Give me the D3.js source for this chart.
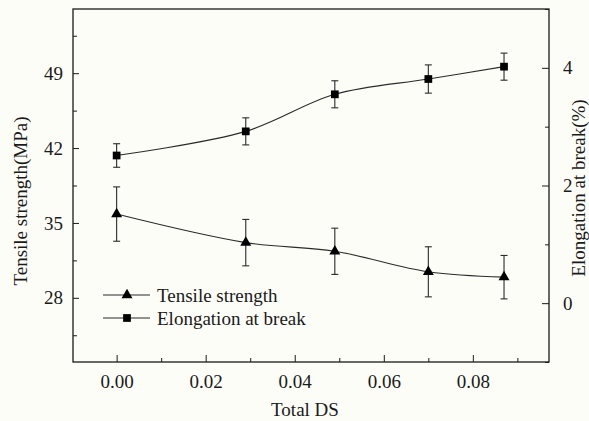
<!DOCTYPE html>
<html>
<head>
<meta charset="utf-8">
<script src="https://cdn.jsdelivr.net/npm/d3@7"></script>
<style>
  html, body { margin: 0; padding: 0; background: #fdfdf8; }
  svg { display: block; }
</style>
</head>
<body>
<svg id="chart" width="589" height="421"></svg>
<script>
// Degree of substitution on the x axis
const totalDS = [0.0, 0.029, 0.049, 0.070, 0.087];
// Tensile strength (MPa) with standard deviation
const tensile = [35.83, 33.16, 32.35, 30.43, 29.93];
const tensileErr = [2.54, 2.17, 2.16, 2.34, 2.03];
// Elongation at break (%) with standard deviation
const elongation = [2.51, 2.92, 3.55, 3.81, 4.02];
const elongationErr = [0.20, 0.23, 0.23, 0.24, 0.23];

const xTicks = [0.00, 0.02, 0.04, 0.06, 0.08];
const xMinor = [0.01, 0.03, 0.05, 0.07, 0.09];
const leftTicks = [28, 35, 42, 49];
const leftMinor = [24.5, 31.5, 38.5, 45.5, 52.5];
const rightTicks = [0, 2, 4];
const rightMinor = [-1, 1, 3, 5];

const FONT = '"Liberation Serif", "Times New Roman", serif';
const FS = "19px";
const W = 589, H = 421;
const m = { left: 73, right: 40, top: 9, bottom: 59 };
const svg = d3.select("#chart");

const x = d3.scaleLinear().domain([-0.0098, 0.0971]).range([m.left, W - m.right]);
const yL = d3.scaleLinear().domain([22, 55]).range([H - m.bottom, m.top]);
const yR = d3.scaleLinear().domain([-1, 5]).range([H - m.bottom, m.top]);

const axisColor = "#1a1a1a";
const g = svg.append("g");

// Frame
g.append("rect")
  .attr("x", m.left).attr("y", m.top)
  .attr("width", W - m.left - m.right).attr("height", H - m.top - m.bottom)
  .attr("fill", "none").attr("stroke", axisColor).attr("stroke-width", 1.3);

// Axes with inward ticks
function styleAxis(sel) {
  sel.attr("font-family", null).attr("font-size", null);
  sel.select(".domain").remove();
  sel.selectAll("line").attr("stroke", axisColor).attr("stroke-width", 1);
  sel.selectAll("text").style("font-family", FONT).style("font-size", FS).attr("fill", axisColor);
}

const xAxis = g.append("g").attr("transform", `translate(0,${H - m.bottom})`)
  .call(d3.axisBottom(x).tickValues(xTicks).tickFormat(d3.format(".2f"))
    .tickSizeInner(-7).tickSizeOuter(0).tickPadding(13));
styleAxis(xAxis);
xAxis.selectAll("text").attr("dy", "0.71em");
g.append("g").attr("transform", `translate(0,${H - m.bottom})`)
  .call(d3.axisBottom(x).tickValues(xMinor).tickFormat("").tickSizeInner(-4).tickSizeOuter(0))
  .call(styleAxis);

const lAxis = g.append("g").attr("transform", `translate(${m.left},0)`)
  .call(d3.axisLeft(yL).tickValues(leftTicks).tickFormat(d3.format("d"))
    .tickSizeInner(-6).tickSizeOuter(0).tickPadding(10));
styleAxis(lAxis);
g.append("g").attr("transform", `translate(${m.left},0)`)
  .call(d3.axisLeft(yL).tickValues(leftMinor).tickFormat("").tickSizeInner(-4).tickSizeOuter(0))
  .call(styleAxis);

const rAxis = g.append("g").attr("transform", `translate(${W - m.right},0)`)
  .call(d3.axisRight(yR).tickValues(rightTicks).tickFormat(d3.format("d"))
    .tickSizeInner(-7).tickSizeOuter(0).tickPadding(14));
styleAxis(rAxis);
g.append("g").attr("transform", `translate(${W - m.right},0)`)
  .call(d3.axisRight(yR).tickValues(rightMinor).tickFormat("").tickSizeInner(-4).tickSizeOuter(0))
  .call(styleAxis);

// Axis titles
function title(sel) {
  return sel.attr("text-anchor", "middle").style("font-family", FONT)
    .style("font-size", FS).attr("fill", axisColor);
}
svg.append("text").attr("x", (m.left + W - m.right) / 2 - 6).attr("y", 416)
  .call(title).text("Total DS");
svg.append("text").attr("transform", `translate(27,201) rotate(-90)`)
  .call(title).text("Tensile strength(MPa)");
svg.append("text").attr("transform", `translate(585,188) rotate(-90)`)
  .call(title).text("Elongation at break(%)");

const lineColor = "#2a2a2a";
const symTri = d3.symbol().type(d3.symbolTriangle).size(52);
const symSq = d3.symbol().type(d3.symbolSquare).size(60);

function drawSeries(values, errs, yScale, sym) {
  const pts = totalDS.map((d, i) => ({ x: d, y: values[i], e: errs[i] }));
  const line = d3.line().x(d => x(d.x)).y(d => yScale(d.y)).curve(d3.curveCatmullRom.alpha(0.5));
  g.append("path").datum(pts).attr("d", line)
    .attr("fill", "none").attr("stroke", lineColor).attr("stroke-width", 1.1);

  const eb = g.append("g").attr("stroke", lineColor).attr("stroke-width", 1.1);
  pts.forEach(p => {
    const cx = x(p.x), y0 = yScale(p.y - p.e), y1 = yScale(p.y + p.e);
    eb.append("line").attr("x1", cx).attr("x2", cx).attr("y1", y0).attr("y2", y1);
    eb.append("line").attr("x1", cx - 3.5).attr("x2", cx + 3.5).attr("y1", y0).attr("y2", y0);
    eb.append("line").attr("x1", cx - 3.5).attr("x2", cx + 3.5).attr("y1", y1).attr("y2", y1);
  });
  g.append("g").selectAll("path").data(pts).join("path")
    .attr("d", sym)
    .attr("transform", d => `translate(${x(d.x)},${yScale(d.y)})`)
    .attr("fill", "#000");
}

drawSeries(tensile, tensileErr, yL, symTri);
drawSeries(elongation, elongationErr, yR, symSq);

// Legend
const legend = [
  { label: "Tensile strength", sym: symTri, y: 295 },
  { label: "Elongation at break", sym: symSq, y: 318 }
];
const lg = svg.append("g");
legend.forEach(it => {
  lg.append("line").attr("x1", 103).attr("x2", 150).attr("y1", it.y).attr("y2", it.y)
    .attr("stroke", lineColor).attr("stroke-width", 1.1);
  lg.append("path").attr("d", it.sym).attr("transform", `translate(127,${it.y})`).attr("fill", "#000");
  lg.append("text").attr("x", 157).attr("y", it.y).attr("dy", "0.35em")
    .style("font-family", FONT).style("font-size", FS).attr("fill", axisColor)
    .text(it.label);
});
</script>
</body>
</html>
